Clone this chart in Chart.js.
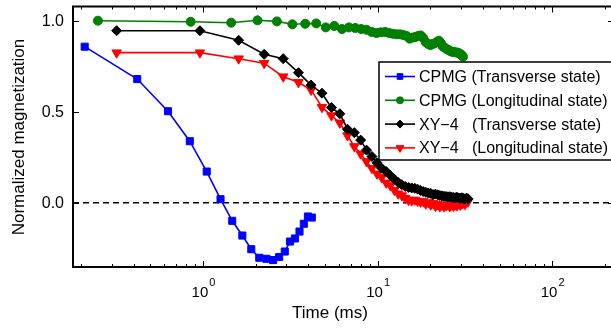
<!DOCTYPE html>
<html>
<head>
<meta charset="utf-8">
<script src="https://cdn.jsdelivr.net/npm/chart.js@4/dist/chart.umd.min.js"></script>
<style>
  html, body { margin: 0; padding: 0; background: #fff; overflow: hidden; }
  #wrap { width: 630px; height: 329px; }
</style>
</head>
<body>
<div id="wrap"><canvas id="myChart" width="630" height="329"></canvas></div>
<script>
// CPMG, transverse state
var cpmgTransT = [0.21, 0.42, 0.63, 0.84, 1.05, 1.26, 1.47, 1.68, 1.89, 2.10,
                  2.31, 2.52, 2.73, 2.94, 3.15, 3.36, 3.57, 3.78, 3.99, 4.20];
var cpmgTransM = [0.859, 0.681, 0.504, 0.339, 0.172, 0.020, -0.099, -0.180, -0.255, -0.302,
                  -0.308, -0.315, -0.298, -0.268, -0.213, -0.196, -0.158, -0.115, -0.075, -0.081];

// CPMG, longitudinal state
var cpmgLongT = [0.25, 0.85, 1.45, 2.05, 2.65, 3.25, 3.85, 4.45, 5.05, 5.65,
                 6.25, 6.85, 7.45, 8.05, 8.65, 9.25, 9.85, 10.45, 11.05, 11.65,
                 12.25, 12.85, 13.45, 14.05, 14.65, 15.25, 15.85, 16.45, 17.05, 17.65,
                 18.25, 18.85, 19.45, 20.05, 20.65, 21.25, 21.85, 22.45, 23.05, 23.65,
                 24.25, 24.85, 25.45, 26.05, 26.65, 27.25, 27.85, 28.45, 29.05, 29.65,
                 30.25, 30.85];
var cpmgLongM = [1.002, 0.996, 0.991, 1.004, 0.998, 0.982, 0.985, 0.987, 0.965, 0.973,
                 0.956, 0.965, 0.962, 0.956, 0.952, 0.940, 0.934, 0.938, 0.940, 0.934,
                 0.930, 0.927, 0.927, 0.923, 0.918, 0.903, 0.909, 0.912, 0.918, 0.921,
                 0.907, 0.885, 0.874, 0.868, 0.874, 0.877, 0.885, 0.892, 0.879, 0.859,
                 0.854, 0.846, 0.841, 0.835, 0.831, 0.830, 0.828, 0.827, 0.824, 0.820,
                 0.813, 0.804];

// XY-4, both states share the same times
var xy4T = [0.32, 0.96, 1.60, 2.24, 2.88, 3.52, 4.16, 4.80, 5.44, 6.08,
            6.72, 7.36, 8.00, 8.64, 9.28, 9.92, 10.56, 11.20, 11.84, 12.48,
            13.12, 13.76, 14.40, 15.04, 15.68, 16.32, 16.96, 17.60, 18.24, 18.88,
            19.52, 20.16, 20.80, 21.44, 22.08, 22.72, 23.36, 24.00, 24.64, 25.28,
            25.92, 26.56, 27.20, 27.84, 28.48, 29.12, 29.76, 30.40, 31.04, 31.68,
            32.32, 32.96];
var xy4TransM = [0.947, 0.947, 0.894, 0.817, 0.793, 0.716, 0.648, 0.603, 0.524, 0.490,
                 0.405, 0.386, 0.345, 0.290, 0.255, 0.220, 0.190, 0.172, 0.150, 0.130,
                 0.112, 0.100, 0.090, 0.085, 0.082, 0.080, 0.075, 0.068, 0.062, 0.058,
                 0.054, 0.052, 0.045, 0.048, 0.044, 0.040, 0.038, 0.036, 0.035, 0.033,
                 0.034, 0.031, 0.030, 0.028, 0.031, 0.027, 0.025, 0.028, 0.024, 0.022,
                 0.026, 0.022];
var xy4LongM = [0.826, 0.826, 0.793, 0.768, 0.694, 0.663, 0.621, 0.526, 0.480, 0.440,
                0.370, 0.310, 0.270, 0.228, 0.190, 0.160, 0.140, 0.110, 0.095, 0.070,
                0.050, 0.040, 0.025, 0.015, 0.012, 0.016, 0.010, 0.005, 0.008, -0.005,
                0.002, -0.010, -0.003, -0.018, -0.008, -0.020, -0.012, -0.020, -0.015, -0.010,
                -0.020, -0.012, -0.018, -0.010, -0.015, -0.005, -0.012, -0.005, 0.000, -0.008,
                0.004, 0.006];

var seriesLabels = ["CPMG (Transverse state)", "CPMG (Longitudinal state)",
                    "XY\u22124   (Transverse state)", "XY\u22124   (Longitudinal state)"];

var xMajorTicks = [1, 10, 100];
var xTickExp = ["0", "1", "2"];
var yTicks = [0, 0.5, 1.0];
var yTickLabels = ["0.0", "0.5", "1.0"];

function pairs(xs, ys){
	var out = [];
	for (var i = 0; i < xs.length; i++) {
		out.push({x: xs[i], y: ys[i]});
	}
	return out;
}

function makeSet(label, xs, ys, color, style, radius, rot){
	return {
		label: label,
		data: pairs(xs, ys),
		borderColor: color,
		backgroundColor: color,
		borderWidth: 1.6,
		pointStyle: style,
		pointRadius: radius,
		pointRotation: rot,
		pointBorderWidth: 1,
		pointBorderColor: color,
		pointBackgroundColor: color,
		tension: 0
	};
}

var FONT = "'Liberation Sans', Arial, Helvetica, sans-serif";

// dashed zero line, drawn under the data
var zeroLine = {
	id: "zeroLine",
	beforeDatasetsDraw: function(chart){
		var ctx = chart.ctx, a = chart.chartArea;
		var y = chart.scales.y.getPixelForValue(0);
		ctx.save();
		ctx.strokeStyle = "#000";
		ctx.lineWidth = 1.5;
		ctx.setLineDash([6, 4]);
		ctx.beginPath();
		ctx.moveTo(a.left, y);
		ctx.lineTo(a.right, y);
		ctx.stroke();
		ctx.restore();
	}
};

// box, inward ticks, tick labels, titles, legend
var axesBox = {
	id: "axesBox",
	afterDraw: function(chart){
		var ctx = chart.ctx, a = chart.chartArea;
		var xs = chart.scales.x, ys = chart.scales.y;
		ctx.save();
		ctx.strokeStyle = "#000";
		ctx.lineWidth = 1;

		// x ticks (major + minor) on bottom and top
		ctx.beginPath();
		for (var e = -1; e <= 2; e++) {
			for (var m = 1; m <= 9; m++) {
				var v = m * Math.pow(10, e);
				if (v < xs.min || v > xs.max) continue;
				var px = Math.round(xs.getPixelForValue(v)) + 0.5;
				var len = (m == 1) ? 6 : 3;
				ctx.moveTo(px, a.bottom); ctx.lineTo(px, a.bottom - len);
				ctx.moveTo(px, a.top); ctx.lineTo(px, a.top + len);
			}
		}
		// y ticks on left and right
		for (var i = 0; i < yTicks.length; i++) {
			var py = Math.round(ys.getPixelForValue(yTicks[i])) + 0.5;
			ctx.moveTo(a.left, py); ctx.lineTo(a.left + 6, py);
			ctx.moveTo(a.right, py); ctx.lineTo(a.right - 6, py);
		}
		ctx.stroke();

		// frame
		ctx.lineWidth = 2;
		ctx.strokeRect(a.left, a.top, a.right - a.left, a.bottom - a.top);

		// y tick labels
		ctx.fillStyle = "#000";
		ctx.font = "16px " + FONT;
		ctx.textAlign = "right";
		ctx.textBaseline = "middle";
		for (var i = 0; i < yTicks.length; i++) {
			ctx.fillText(yTickLabels[i], a.left - 9, ys.getPixelForValue(yTicks[i]) + 1);
		}

		// x tick labels as 10 with superscript
		ctx.textBaseline = "alphabetic";
		ctx.textAlign = "left";
		for (var i = 0; i < xMajorTicks.length; i++) {
			var cx = xs.getPixelForValue(xMajorTicks[i]);
			ctx.font = "15px " + FONT;
			var bw = ctx.measureText("10").width;
			ctx.font = "11px " + FONT;
			var ew = ctx.measureText(xTickExp[i]).width;
			var x0 = cx - (bw + ew) / 2;
			ctx.font = "15px " + FONT;
			ctx.fillText("10", x0, 297);
			ctx.font = "11px " + FONT;
			ctx.fillText(xTickExp[i], x0 + bw + 1, 286);
		}

		// axis titles
		ctx.font = "17px " + FONT;
		ctx.textAlign = "center";
		ctx.textBaseline = "middle";
		ctx.fillText("Time (ms)", 330, 313);
		ctx.save();
		ctx.translate(19, 137);
		ctx.rotate(-Math.PI / 2);
		ctx.fillText("Normalized magnetization", 0, 0);
		ctx.restore();

		// legend
		var lx = 379, ly = 62, lw = 240, lh = 98;
		ctx.fillStyle = "#fff";
		ctx.fillRect(lx, ly, lw, lh);
		ctx.lineWidth = 1.5;
		ctx.strokeStyle = "#000";
		ctx.strokeRect(lx, ly, lw, lh);
		ctx.font = "16px " + FONT;
		ctx.textAlign = "left";
		ctx.textBaseline = "middle";
		var sets = chart.data.datasets;
		for (var i = 0; i < sets.length; i++) {
			var ds = sets[i];
			var ry = ly + 14.5 + i * 23.8;
			ctx.strokeStyle = ds.borderColor;
			ctx.lineWidth = 1.6;
			ctx.beginPath();
			ctx.moveTo(385, ry); ctx.lineTo(415, ry);
			ctx.stroke();
			ctx.fillStyle = ds.pointBackgroundColor;
			ctx.lineWidth = 1;
			Chart.helpers.drawPoint(ctx, {
				pointStyle: ds.pointStyle,
				radius: ds.pointRadius - 1,
				rotation: ds.pointRotation,
				borderWidth: 1
			}, 400, ry);
			ctx.fillStyle = "#000";
			ctx.fillText(ds.label, 419, ry + 1);
		}
		ctx.restore();
	}
};

var ctx = document.getElementById("myChart").getContext("2d");
var myChart = new Chart(ctx, {
	type: "line",
	data: {
		datasets: [
			makeSet(seriesLabels[0], cpmgTransT, cpmgTransM, "#0000ff", "rect", 5, 0),
			makeSet(seriesLabels[1], cpmgLongT, cpmgLongM, "#008000", "circle", 4.5, 0),
			makeSet(seriesLabels[2], xy4T, xy4TransM, "#000000", "rectRot", 5, 0),
			makeSet(seriesLabels[3], xy4T, xy4LongM, "#ff0000", "triangle", 5.5, 180)
		]
	},
	options: {
		responsive: false,
		animation: false,
		devicePixelRatio: 1,
		layout: { padding: { left: 73, top: 6, right: 16, bottom: 62 } },
		scales: {
			x: { type: "logarithmic", min: 0.18, max: 226, display: false },
			y: { type: "linear", min: -0.353, max: 1.08, display: false }
		},
		plugins: {
			legend: { display: false },
			tooltip: { enabled: false }
		}
	},
	plugins: [zeroLine, axesBox]
});
</script>
</body>
</html>
